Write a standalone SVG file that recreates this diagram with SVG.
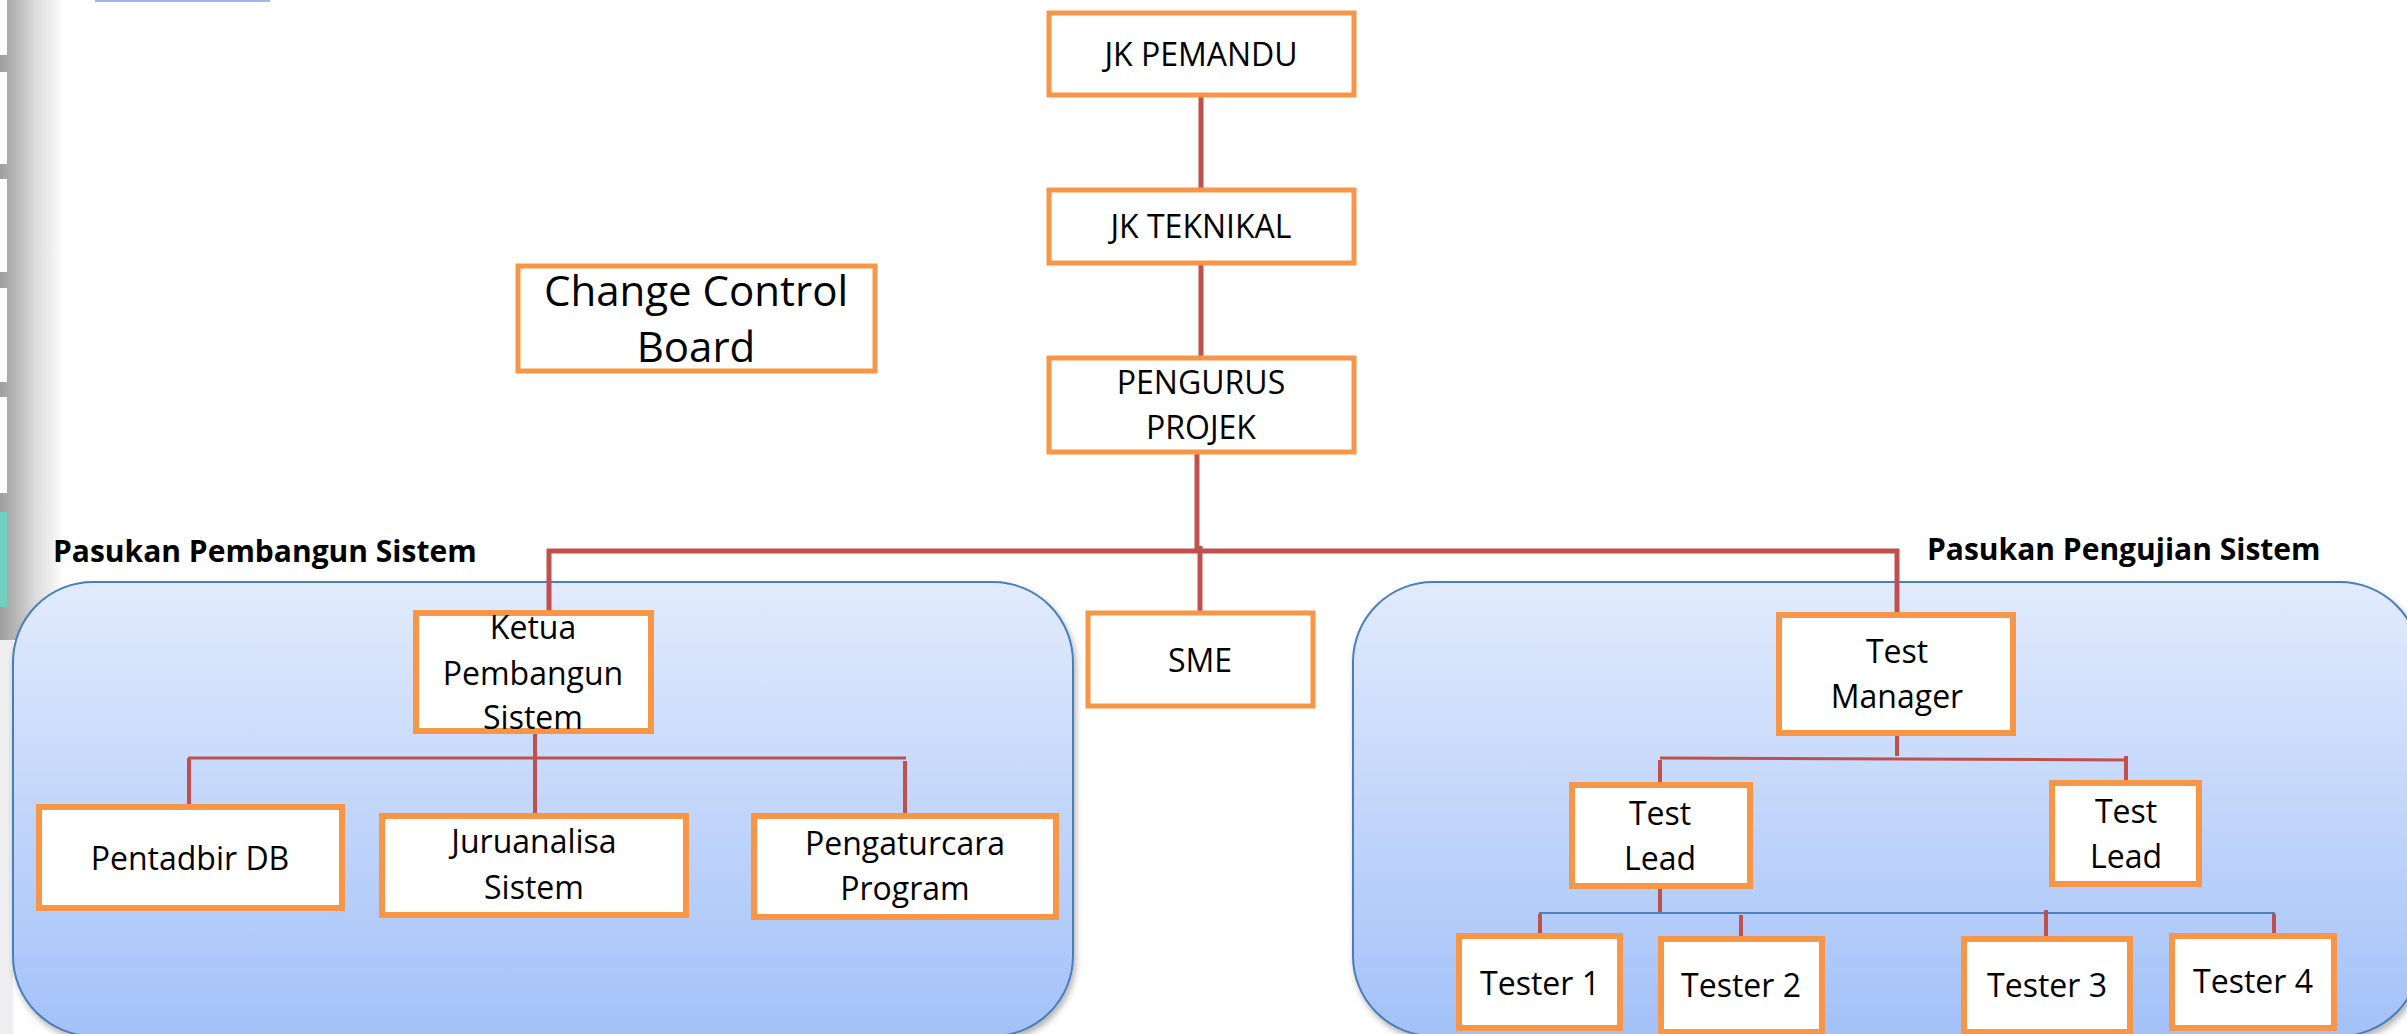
<svg xmlns="http://www.w3.org/2000/svg" width="2407" height="1034" viewBox="0 0 2407 1034">
<defs>
<linearGradient id="cont" x1="0" y1="0" x2="0" y2="1">
<stop offset="0" stop-color="#E2EBFD"/>
<stop offset="1" stop-color="#A3C1F8"/>
</linearGradient>
<linearGradient id="edge" x1="0" y1="0" x2="1" y2="0">
<stop offset="0" stop-color="#9E9E9E"/>
<stop offset="0.25" stop-color="#B8B8B8"/>
<stop offset="0.55" stop-color="#DCDCDC"/>
<stop offset="1" stop-color="#FFFFFF"/>
</linearGradient>
<filter id="sh" x="-5%" y="-5%" width="110%" height="115%">
<feDropShadow dx="2" dy="4" stdDeviation="3" flood-color="#000" flood-opacity="0.3"/>
</filter>
</defs>
<style>
.box{fill:#FFFFFF;stroke:#F79646;stroke-width:5}
.ibox{fill:#FFFFFF;stroke:#F79646;stroke-width:6}
.cont{fill:url(#cont);stroke:#4A7EBB;stroke-width:2}
.t{font-family:"Open Sans","Liberation Sans",sans-serif;font-size:32px;fill:#000;text-anchor:middle}
.big{font-size:42px}
.lbl{font-family:"Open Sans","Liberation Sans",sans-serif;font-size:30px;font-weight:bold;fill:#000}
.c{stroke:#C0504D;stroke-width:5;fill:none}
.c3{stroke:#C0504D;stroke-width:3;fill:none}
.c4{stroke:#C0504D;stroke-width:4;fill:none}
.cb{stroke:#4F81BD;stroke-width:2;fill:none}
.pn{fill:#FBFBFB}
</style>
<rect x="0" y="0" width="2407" height="1034" fill="#FFFFFF"/>
<g id="left-edge">
<rect x="0" y="0" width="65" height="640" fill="url(#edge)"/>
<rect x="0" y="640" width="13" height="394" fill="#EEEDF0"/>
<rect class="pn" x="0" y="0" width="7" height="55"/>
<rect class="pn" x="0" y="72" width="7" height="92"/>
<rect class="pn" x="0" y="179" width="7" height="93"/>
<rect class="pn" x="0" y="288" width="7" height="94"/>
<rect class="pn" x="0" y="397" width="7" height="96"/>
<rect x="0" y="512" width="7" height="95" fill="#70D0C0"/>
<rect x="95" y="0" width="175" height="2" fill="#A8B4E8"/>
</g>
<g id="containers">
<rect id="pasukan-pembangun" class="cont" x="13" y="582" width="1060" height="454" rx="80" ry="80" filter="url(#sh)"/>
<rect id="pasukan-pengujian" class="cont" x="1353" y="582" width="1067" height="454" rx="80" ry="80" filter="url(#sh)"/>
<text class="lbl" x="53" y="562">Pasukan Pembangun Sistem</text>
<text class="lbl" x="1927" y="560">Pasukan Pengujian Sistem</text>
</g>
<g id="connectors">
<line class="c" x1="1201" y1="95" x2="1201" y2="190"/>
<line class="c" x1="1201" y1="263" x2="1201" y2="358"/>
<line class="c" x1="1197" y1="452" x2="1197" y2="550"/>
<line class="c" x1="547" y1="551" x2="1899" y2="551"/>
<line class="c" x1="549" y1="549" x2="549" y2="613"/>
<line class="c" x1="1200" y1="546" x2="1200" y2="613"/>
<line class="c" x1="1897" y1="549" x2="1897" y2="615"/>
<line class="c4" x1="535" y1="731" x2="535" y2="816"/>
<line class="c3" x1="188" y1="758" x2="906" y2="758"/>
<line class="c4" x1="189" y1="758" x2="189" y2="807"/>
<line class="c4" x1="905" y1="761" x2="905" y2="816"/>
<line class="c4" x1="1897" y1="733" x2="1897" y2="756"/>
<line class="c3" x1="1660" y1="758" x2="2127" y2="760"/>
<line class="c4" x1="1660" y1="760" x2="1660" y2="785"/>
<line class="c4" x1="2126" y1="756" x2="2126" y2="783"/>
<line class="c4" x1="1660" y1="886" x2="1660" y2="913"/>
<line class="cb" x1="1539" y1="913" x2="2275" y2="913"/>
<line class="c4" x1="1540" y1="914" x2="1540" y2="936"/>
<line class="c4" x1="1741" y1="915" x2="1741" y2="939"/>
<line class="c4" x1="2046" y1="910" x2="2046" y2="939"/>
<line class="c4" x1="2274" y1="914" x2="2274" y2="936"/>
</g>
<g id="jk-pemandu"><rect class="box" x="1049" y="13" width="305" height="82"/><text class="t" x="1201" y="66">JK PEMANDU</text></g>
<g id="jk-teknikal"><rect class="box" x="1049" y="190" width="305" height="73"/><text class="t" x="1201" y="238">JK TEKNIKAL</text></g>
<g id="pengurus-projek"><rect class="box" x="1049" y="358" width="305" height="94"/><text class="t" x="1201" y="394">PENGURUS</text><text class="t" x="1201" y="439">PROJEK</text></g>
<g id="change-control-board"><rect class="box" x="518" y="266" width="357" height="105"/><text class="t big" x="696" y="306">Change Control</text><text class="t big" x="696" y="362">Board</text></g>
<g id="sme"><rect class="box" x="1088" y="613" width="225" height="93"/><text class="t" x="1200" y="672">SME</text></g>
<g id="ketua-pembangun-sistem"><rect class="ibox" x="416" y="613" width="235" height="118"/><text class="t" x="533" y="639">Ketua</text><text class="t" x="533" y="685">Pembangun</text><text class="t" x="533" y="729">Sistem</text></g>
<g id="pentadbir-db"><rect class="ibox" x="39" y="807" width="303" height="101"/><text class="t" x="190" y="870">Pentadbir DB</text></g>
<g id="juruanalisa-sistem"><rect class="ibox" x="382" y="816" width="304" height="99"/><text class="t" x="534" y="853">Juruanalisa</text><text class="t" x="534" y="899">Sistem</text></g>
<g id="pengaturcara-program"><rect class="ibox" x="754" y="816" width="302" height="101"/><text class="t" x="905" y="855">Pengaturcara</text><text class="t" x="905" y="900">Program</text></g>
<g id="test-manager"><rect class="ibox" x="1779" y="615" width="234" height="118"/><text class="t" x="1897" y="663">Test</text><text class="t" x="1897" y="708">Manager</text></g>
<g id="test-lead-1"><rect class="ibox" x="1572" y="785" width="178" height="101"/><text class="t" x="1660" y="825">Test</text><text class="t" x="1660" y="870">Lead</text></g>
<g id="test-lead-2"><rect class="ibox" x="2052" y="783" width="147" height="101"/><text class="t" x="2126" y="823">Test</text><text class="t" x="2126" y="868">Lead</text></g>
<g id="tester-1"><rect class="ibox" x="1459" y="936" width="161" height="92"/><text class="t" x="1540" y="995">Tester 1</text></g>
<g id="tester-2"><rect class="ibox" x="1661" y="939" width="161" height="93"/><text class="t" x="1741" y="997">Tester 2</text></g>
<g id="tester-3"><rect class="ibox" x="1964" y="939" width="166" height="93"/><text class="t" x="2047" y="997">Tester 3</text></g>
<g id="tester-4"><rect class="ibox" x="2172" y="936" width="162" height="92"/><text class="t" x="2253" y="993">Tester 4</text></g>
</svg>
